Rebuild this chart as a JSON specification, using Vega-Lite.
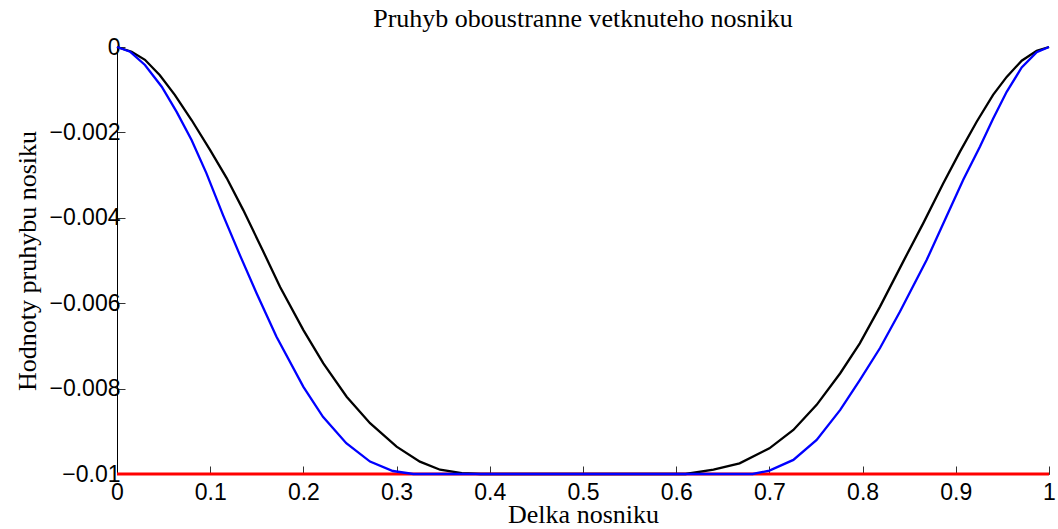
{
  "$schema": "https://vega.github.io/schema/vega-lite/v6.json",
  "width": 932,
  "height": 427,
  "autosize": {"type": "none"},
  "padding": {"left": 117, "top": 47, "right": 9, "bottom": 55},
  "background": "white",
  "config": {"view": {"stroke": null}},
  "title": {
    "text": "Pruhyb oboustranne vetknuteho nosniku",
    "font": "Liberation Serif",
    "fontSize": 26,
    "fontWeight": "normal",
    "color": "black",
    "anchor": "middle",
    "frame": "group"
  },
  "datasets": {
    "red": [{"x": 0, "y": -0.01}, {"x": 1, "y": -0.01}],
    "black": [
      {"x": 0, "y": 0}, {"x": 0.0157, "y": -0.00011}, {"x": 0.03, "y": -0.0003}, {"x": 0.046, "y": -0.00066},
      {"x": 0.062, "y": -0.00112}, {"x": 0.08, "y": -0.00171}, {"x": 0.0998, "y": -0.00241}, {"x": 0.1177, "y": -0.00307},
      {"x": 0.1355, "y": -0.00382}, {"x": 0.1563, "y": -0.00476}, {"x": 0.175, "y": -0.00562}, {"x": 0.2, "y": -0.00663},
      {"x": 0.2214, "y": -0.00741}, {"x": 0.2464, "y": -0.00819}, {"x": 0.2715, "y": -0.00881}, {"x": 0.3, "y": -0.00936},
      {"x": 0.325, "y": -0.00971}, {"x": 0.3466, "y": -0.0099}, {"x": 0.37, "y": -0.00998}, {"x": 0.39, "y": -0.01},
      {"x": 0.61, "y": -0.01}, {"x": 0.64, "y": -0.0099}, {"x": 0.668, "y": -0.00975}, {"x": 0.7, "y": -0.0094},
      {"x": 0.7257, "y": -0.00897}, {"x": 0.7507, "y": -0.00838}, {"x": 0.776, "y": -0.00764}, {"x": 0.797, "y": -0.00694},
      {"x": 0.8187, "y": -0.00608}, {"x": 0.8437, "y": -0.00502}, {"x": 0.865, "y": -0.00413}, {"x": 0.8866, "y": -0.00319},
      {"x": 0.9045, "y": -0.00245}, {"x": 0.9224, "y": -0.00175}, {"x": 0.94, "y": -0.00112}, {"x": 0.9546, "y": -0.0007},
      {"x": 0.9707, "y": -0.00032}, {"x": 0.9868, "y": -0.00009}, {"x": 1, "y": 0}
    ],
    "blue": [
      {"x": 0, "y": 0}, {"x": 0.014, "y": -0.00011}, {"x": 0.03, "y": -0.00042}, {"x": 0.048, "y": -0.00093},
      {"x": 0.064, "y": -0.00152}, {"x": 0.08, "y": -0.00218}, {"x": 0.096, "y": -0.00296}, {"x": 0.114, "y": -0.00395},
      {"x": 0.132, "y": -0.00488}, {"x": 0.15, "y": -0.00578}, {"x": 0.171, "y": -0.00678}, {"x": 0.2, "y": -0.00796},
      {"x": 0.221, "y": -0.00866}, {"x": 0.246, "y": -0.00928}, {"x": 0.2715, "y": -0.00971}, {"x": 0.296, "y": -0.00993},
      {"x": 0.318, "y": -0.01}, {"x": 0.682, "y": -0.01}, {"x": 0.7, "y": -0.00992}, {"x": 0.7257, "y": -0.00967},
      {"x": 0.7507, "y": -0.0092}, {"x": 0.776, "y": -0.0085}, {"x": 0.797, "y": -0.0078}, {"x": 0.8187, "y": -0.00705},
      {"x": 0.84, "y": -0.0062}, {"x": 0.8687, "y": -0.00499}, {"x": 0.89, "y": -0.00397}, {"x": 0.908, "y": -0.00311},
      {"x": 0.926, "y": -0.00233}, {"x": 0.94, "y": -0.00168}, {"x": 0.9546, "y": -0.00105}, {"x": 0.9707, "y": -0.00048},
      {"x": 0.9868, "y": -0.00012}, {"x": 1, "y": 0}
    ]
  },
  "encoding": {
    "x": {
      "field": "x", "type": "quantitative",
      "scale": {"domain": [0, 1], "nice": false, "zero": false},
      "axis": {
        "title": "Delka nosniku",
        "values": [0, 0.1, 0.2, 0.3, 0.4, 0.5, 0.6, 0.7, 0.8, 0.9, 1],
        "format": "~g",
        "grid": false,
        "domain": true, "domainColor": "black", "domainWidth": 1,
        "ticks": true, "tickSize": -8, "tickColor": "#333", "tickWidth": 1,
        "labelFont": "Liberation Sans", "labelFontSize": 23, "labelColor": "black",
        "labelPadding": 15, "labelFlush": false,
        "titleFont": "Liberation Serif", "titleFontSize": 26, "titleFontWeight": "normal", "titleColor": "black",
        "titleBaseline": "alphabetic", "titleX": 466, "titleY": 48, "titleAlign": "center"
      }
    },
    "y": {
      "field": "y", "type": "quantitative",
      "scale": {"domain": [-0.01, 0], "nice": false, "zero": false},
      "axis": {
        "title": "Hodnoty pruhybu nosiku",
        "values": [-0.01, -0.008, -0.006, -0.004, -0.002, 0],
        "format": "~g",
        "grid": false,
        "domain": true, "domainColor": "black", "domainWidth": 1,
        "ticks": true, "tickSize": -8, "tickColor": "#333", "tickWidth": 1,
        "labelFont": "Liberation Sans", "labelFontSize": 23, "labelColor": "black",
        "labelPadding": 5, "labelFlush": false,
        "titleFont": "Liberation Serif", "titleFontSize": 26, "titleFontWeight": "normal", "titleColor": "black",
        "titleBaseline": "alphabetic", "titleAngle": -90, "titleX": -82, "titleY": 213.5, "titleAlign": "center"
      }
    }
  },
  "layer": [
    {"data": {"name": "red"}, "mark": {"type": "line", "color": "#ff0000", "strokeWidth": 3}},
    {"data": {"name": "black"}, "mark": {"type": "line", "color": "#000000", "strokeWidth": 2.3}},
    {"data": {"name": "blue"}, "mark": {"type": "line", "color": "#0000ff", "strokeWidth": 2.3}}
  ]
}
